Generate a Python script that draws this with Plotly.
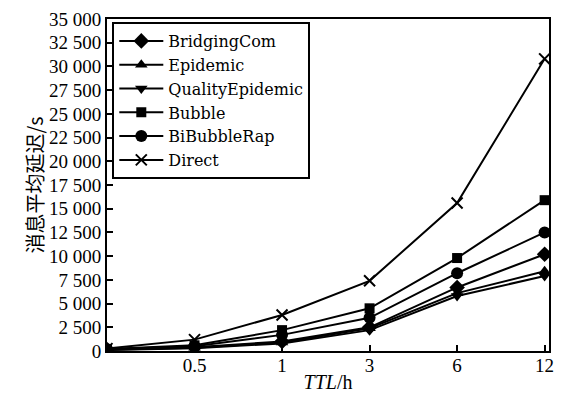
import plotly.graph_objects as go

ttl = ["0.1", "0.5", "1", "3", "6", "12"]
tick_ttl = ["0.5", "1", "3", "6", "12"]
series_names = ["BridgingCom", "Epidemic", "QualityEpidemic", "Bubble", "BiBubbleRap", "Direct"]
bridging = [150, 400, 1000, 2500, 6700, 10200]
epidemic = [120, 350, 900, 2400, 6100, 8400]
quality = [100, 300, 800, 2200, 5800, 7900]
bubble = [200, 600, 2200, 4500, 9800, 15900]
bibubble = [180, 500, 1700, 3500, 8200, 12500]
direct = [250, 1200, 3800, 7400, 15600, 30800]
yticks = [0, 2500, 5000, 7500, 10000, 12500, 15000, 17500, 20000, 22500, 25000, 27500, 30000, 32500, 35000]
ytick_text = ["0", "2 500", "5 000", "7 500", "10 000", "12 500", "15 000", "17 500", "20 000",
              "22 500", "25 000", "27 500", "30 000", "32 500", "35 000"]

values = [bridging, epidemic, quality, bubble, bibubble, direct]
symbols = ["diamond", "triangle-up", "triangle-down", "square", "circle", "x-thin-open"]
sizes = [12, 11, 11, 10, 12, 11]

fig = go.Figure()
for name, vals, sym, sz in zip(series_names, values, symbols, sizes):
    fig.add_trace(go.Scatter(
        x=ttl, y=vals, name=name, mode="lines+markers",
        line=dict(color="black", width=2),
        marker=dict(symbol=sym, size=sz, color="black",
                    line=dict(color="black", width=2 if sym.startswith("x") else 0)),
    ))

font = "Liberation Serif, Times New Roman, serif"
fig.update_layout(
    width=568, height=396,
    margin=dict(l=107, r=19, t=19, b=45),
    paper_bgcolor="white", plot_bgcolor="white",
    font=dict(family=font, size=19, color="black"),
    showlegend=True,
    legend=dict(
        x=0.012, y=0.991, xanchor="left", yanchor="top",
        bgcolor="white", bordercolor="black", borderwidth=2,
        font=dict(family="DejaVu Serif, " + font, size=16, color="black"),
        tracegroupgap=0, itemwidth=44,
    ),
    xaxis=dict(
        type="category", categoryorder="array", categoryarray=ttl,
        range=[0, 5.05], automargin=False,
        tickmode="array", tickvals=tick_ttl, ticktext=tick_ttl,
        ticks="inside", ticklen=6, tickwidth=1.5, tickcolor="black",
        ticklabelstandoff=-4,
        showline=True, linecolor="black", linewidth=2, mirror=True,
        showgrid=False, zeroline=False,
        title=dict(text="<i>TTL</i>/h", font=dict(family=font, size=20), standoff=0),
    ),
    yaxis=dict(
        range=[0, 35000], automargin=False,
        tickmode="array", tickvals=yticks, ticktext=ytick_text,
        ticks="inside", ticklen=6, tickwidth=1.5, tickcolor="black",
        showline=True, linecolor="black", linewidth=2, mirror=True,
        showgrid=False, zeroline=False,
        title=dict(text="消息平均延迟/s", font=dict(family="Noto Sans CJK SC, " + font, size=20), standoff=0),
    ),
)
fig.write_html("out.html")
